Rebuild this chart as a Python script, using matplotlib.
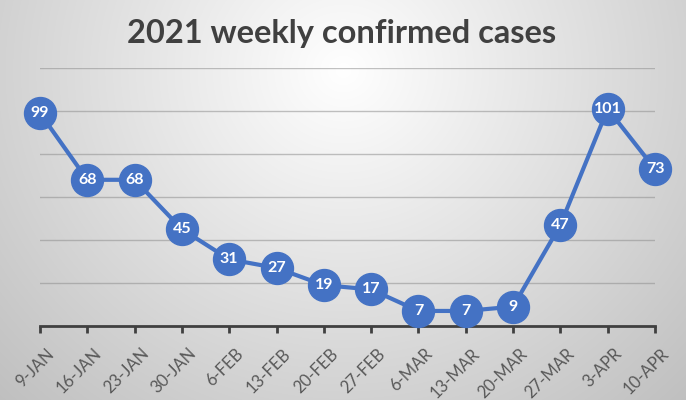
import numpy as np
import matplotlib
matplotlib.use("Agg")
import matplotlib.pyplot as plt
from matplotlib import transforms

weeks = ["9-JAN", "16-JAN", "23-JAN", "30-JAN", "6-FEB", "13-FEB", "20-FEB",
         "27-FEB", "6-MAR", "13-MAR", "20-MAR", "27-MAR", "3-APR", "10-APR"]
cases = [99, 68, 68, 45, 31, 27, 19, 17, 7, 7, 9, 47, 101, 73]
title = "2021 weekly confirmed cases"

W, H = 686, 400
fig = plt.figure(figsize=(W / 100, H / 100), dpi=100)

# radial gradient background
bg = fig.add_axes([0, 0, 1, 1])
yy, xx = np.mgrid[0:H, 0:W]
d = np.sqrt(((xx - 343) / 1.0) ** 2 + ((yy - 70) / 0.95) ** 2)
v = 1 - 0.24 * np.clip(d / 470, 0, 1.2)
bg.imshow(np.dstack([v, v, v]), aspect="auto", extent=[0, 1, 0, 1], origin="upper")
bg.set_axis_off()
bg.set_zorder(-10)

ax = fig.add_axes([40 / W, (H - 326) / H, 615 / W, (326 - 68) / H])
ax.set_facecolor("none")
x = np.arange(len(weeks))
ax.plot(x, cases, color="#4472C4", lw=3.0, marker="o", ms=23,
        markerfacecolor="#4472C4", markeredgecolor="#4472C4", clip_on=False, zorder=3)
for xi, c in zip(x, cases):
    ax.text(xi, c, str(c), ha="center", va="center", color="white",
            fontsize=11.5, fontweight="bold", family="Lato", zorder=4)

ax.set_xlim(0, len(weeks) - 1)
ax.set_ylim(0, 120)
ax.set_yticks([0, 20, 40, 60, 80, 100, 120])
ax.yaxis.grid(True, color="#8f8f8f", lw=1.0, alpha=0.55)
ax.set_axisbelow(True)
ax.tick_params(axis="y", left=False, labelleft=False)
for s in ["top", "right", "left"]:
    ax.spines[s].set_visible(False)
ax.spines["bottom"].set_color("#404040")
ax.spines["bottom"].set_linewidth(2.0)
ax.set_xticks(x)
ax.set_xticklabels(weeks, rotation=45, ha="right", va="top", rotation_mode="anchor",
                   fontsize=12, color="#595959", family="Lato")
ax.tick_params(axis="x", direction="out", length=5, width=2, color="#404040", pad=9)
offset = transforms.ScaledTranslation(6 / 100, 0, fig.dpi_scale_trans)
for lab in ax.get_xticklabels():
    lab.set_transform(lab.get_transform() + offset)

fig.text(342 / W, 1 - 33 / H, title, ha="center", va="center", fontsize=23.5,
         fontweight="bold", color="#404040", family="Lato")

fig.savefig("out.png", dpi=100)
